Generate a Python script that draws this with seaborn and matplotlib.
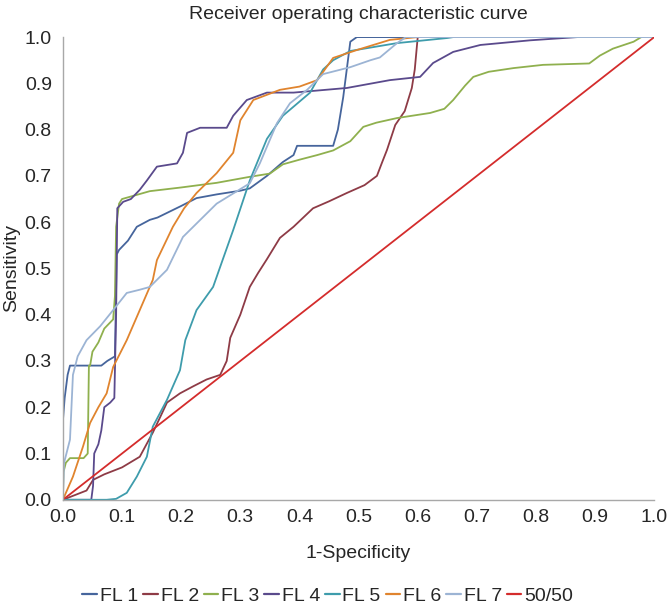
import numpy as np
import pandas as pd
import matplotlib
matplotlib.use("Agg")
import matplotlib.pyplot as plt
import seaborn as sns

# curve points (1-specificity, sensitivity)
fl1_x = [0, 0, 0.003, 0.008, 0.012, 0.065, 0.075, 0.088, 0.091, 0.095, 0.11, 0.125, 0.147, 0.16, 0.2, 0.226, 0.26, 0.3, 0.316, 0.345, 0.372, 0.39, 0.396, 0.457, 0.465, 0.474, 0.48, 0.486, 0.497, 1.0]
fl1_y = [0, 0.17, 0.22, 0.27, 0.29, 0.29, 0.30, 0.31, 0.53, 0.54, 0.56, 0.59, 0.605, 0.61, 0.635, 0.652, 0.66, 0.668, 0.673, 0.70, 0.73, 0.745, 0.765, 0.765, 0.80, 0.87, 0.93, 0.99, 1.0, 1.0]

fl2_x = [0, 0.04, 0.051, 0.07, 0.1, 0.13, 0.152, 0.165, 0.176, 0.198, 0.22, 0.243, 0.266, 0.277, 0.283, 0.3, 0.316, 0.33, 0.345, 0.367, 0.39, 0.423, 0.45, 0.48, 0.51, 0.531, 0.54, 0.548, 0.562, 0.578, 0.59, 0.595, 0.60, 1.0]
fl2_y = [0, 0.02, 0.043, 0.055, 0.07, 0.093, 0.145, 0.18, 0.21, 0.23, 0.245, 0.26, 0.27, 0.30, 0.35, 0.40, 0.46, 0.49, 0.52, 0.566, 0.59, 0.63, 0.645, 0.663, 0.68, 0.70, 0.73, 0.756, 0.81, 0.84, 0.89, 0.93, 1.0, 1.0]

fl3_x = [0, 0.001, 0.005, 0.012, 0.035, 0.042, 0.044, 0.046, 0.05, 0.06, 0.07, 0.085, 0.088, 0.09, 0.095, 0.1, 0.147, 0.2, 0.26, 0.316, 0.35, 0.372, 0.40, 0.43, 0.457, 0.486, 0.508, 0.53, 0.565, 0.621, 0.645, 0.66, 0.68, 0.694, 0.72, 0.762, 0.812, 0.89, 0.908, 0.93, 0.965, 0.978, 1.0]
fl3_y = [0, 0.06, 0.08, 0.09, 0.09, 0.10, 0.29, 0.29, 0.32, 0.34, 0.37, 0.39, 0.44, 0.59, 0.64, 0.65, 0.667, 0.675, 0.685, 0.698, 0.705, 0.725, 0.735, 0.745, 0.755, 0.775, 0.806, 0.815, 0.825, 0.836, 0.845, 0.864, 0.895, 0.914, 0.925, 0.933, 0.94, 0.943, 0.96, 0.975, 0.99, 1.0, 1.0]

fl4_x = [0, 0.048, 0.051, 0.053, 0.06, 0.065, 0.07, 0.08, 0.087, 0.09, 0.092, 0.102, 0.115, 0.13, 0.142, 0.159, 0.193, 0.203, 0.21, 0.232, 0.277, 0.288, 0.311, 0.345, 0.39, 0.48, 0.553, 0.604, 0.626, 0.66, 0.706, 0.79, 0.87, 1.0]
fl4_y = [0, 0, 0.03, 0.1, 0.12, 0.15, 0.2, 0.21, 0.22, 0.4, 0.63, 0.644, 0.65, 0.67, 0.69, 0.72, 0.727, 0.75, 0.793, 0.804, 0.804, 0.83, 0.864, 0.88, 0.88, 0.89, 0.907, 0.914, 0.944, 0.968, 0.983, 0.993, 1.0, 1.0]

fl5_x = [0, 0.074, 0.09, 0.108, 0.125, 0.142, 0.152, 0.176, 0.198, 0.207, 0.226, 0.254, 0.27, 0.288, 0.316, 0.345, 0.372, 0.418, 0.44, 0.457, 0.486, 0.565, 0.65, 0.66, 1.0]
fl5_y = [0, 0, 0.002, 0.015, 0.05, 0.093, 0.158, 0.216, 0.28, 0.345, 0.41, 0.46, 0.518, 0.583, 0.69, 0.78, 0.83, 0.88, 0.93, 0.95, 0.97, 0.987, 0.998, 1.0, 1.0]

fl6_x = [0, 0.017, 0.034, 0.046, 0.06, 0.074, 0.085, 0.108, 0.13, 0.152, 0.159, 0.186, 0.205, 0.226, 0.26, 0.288, 0.30, 0.322, 0.367, 0.40, 0.43, 0.457, 0.497, 0.553, 0.60, 1.0]
fl6_y = [0, 0.05, 0.115, 0.166, 0.2, 0.23, 0.287, 0.345, 0.41, 0.475, 0.518, 0.59, 0.63, 0.663, 0.706, 0.75, 0.82, 0.864, 0.886, 0.893, 0.907, 0.955, 0.972, 0.994, 1.0, 1.0]

fl7_x = [0, 0.002, 0.012, 0.017, 0.025, 0.04, 0.063, 0.085, 0.108, 0.13, 0.147, 0.176, 0.203, 0.26, 0.316, 0.333, 0.362, 0.384, 0.413, 0.44, 0.486, 0.52, 0.536, 0.565, 0.58, 1.0]
fl7_y = [0, 0.08, 0.13, 0.27, 0.31, 0.345, 0.375, 0.41, 0.447, 0.454, 0.46, 0.497, 0.568, 0.64, 0.684, 0.727, 0.814, 0.857, 0.886, 0.92, 0.935, 0.95, 0.956, 0.987, 1.0, 1.0]

ref_x = [0, 1.0]
ref_y = [0, 1.0]

names = ["FL 1", "FL 2", "FL 3", "FL 4", "FL 5", "FL 6", "FL 7", "50/50"]
colors = ["#46659c", "#8e3b46", "#8fb04e", "#5a4a8c", "#3e9cac", "#e0842e", "#9cb4d4", "#d42c2c"]

series = [(fl1_x, fl1_y), (fl2_x, fl2_y), (fl3_x, fl3_y), (fl4_x, fl4_y),
          (fl5_x, fl5_y), (fl6_x, fl6_y), (fl7_x, fl7_y), (ref_x, ref_y)]

frames = []
for name, (xs, ys) in zip(names, series):
    frames.append(pd.DataFrame({"x": xs, "y": ys, "curve": name}))
df = pd.concat(frames, ignore_index=True)

sns.set_style("white")
plt.rcParams["font.family"] = ["Liberation Sans", "DejaVu Sans"]

fig = plt.figure(figsize=(6.69, 6.08), dpi=100)
ax = fig.add_axes([0.094, 0.178, 0.884, 0.761])

sns.lineplot(data=df, x="x", y="y", hue="curve", hue_order=names,
             palette=dict(zip(names, colors)), sort=False, estimator=None,
             linewidth=1.3, ax=ax, legend=False)

ticks = np.arange(0, 1.01, 0.1)
ax.set_xlim(0, 1.0)
ax.set_ylim(0, 1.0)
ax.set_xticks(ticks)
ax.set_yticks(ticks)
ax.set_xticklabels([f"{v:.1f}" for v in ticks])
ax.set_yticklabels([f"{v:.1f}" for v in ticks])
ax.tick_params(axis="both", length=0, labelsize=14)
ax.tick_params(axis="x", pad=7)
ax.tick_params(axis="y", pad=8)
for s in ["top", "right"]:
    ax.spines[s].set_visible(False)
for s in ["left", "bottom"]:
    ax.spines[s].set_color("#a8a8a8")
    ax.spines[s].set_linewidth(1.0)

ax.set_title("Receiver operating characteristic curve", fontsize=14, pad=13)
ax.set_xlabel("1-Specificity", fontsize=14, labelpad=13)
ax.set_ylabel("Sensitivity", fontsize=14, labelpad=3)

handles = [plt.Line2D([], [], color=c, linewidth=1.6) for c in colors]
fig.legend(handles, names, loc="center", bbox_to_anchor=(0.49, 0.02), ncol=8,
           frameon=False, fontsize=14, handlelength=0.75, handletextpad=0.15,
           columnspacing=0.25, borderpad=0.2)

fig.savefig("out.png", dpi=100)
